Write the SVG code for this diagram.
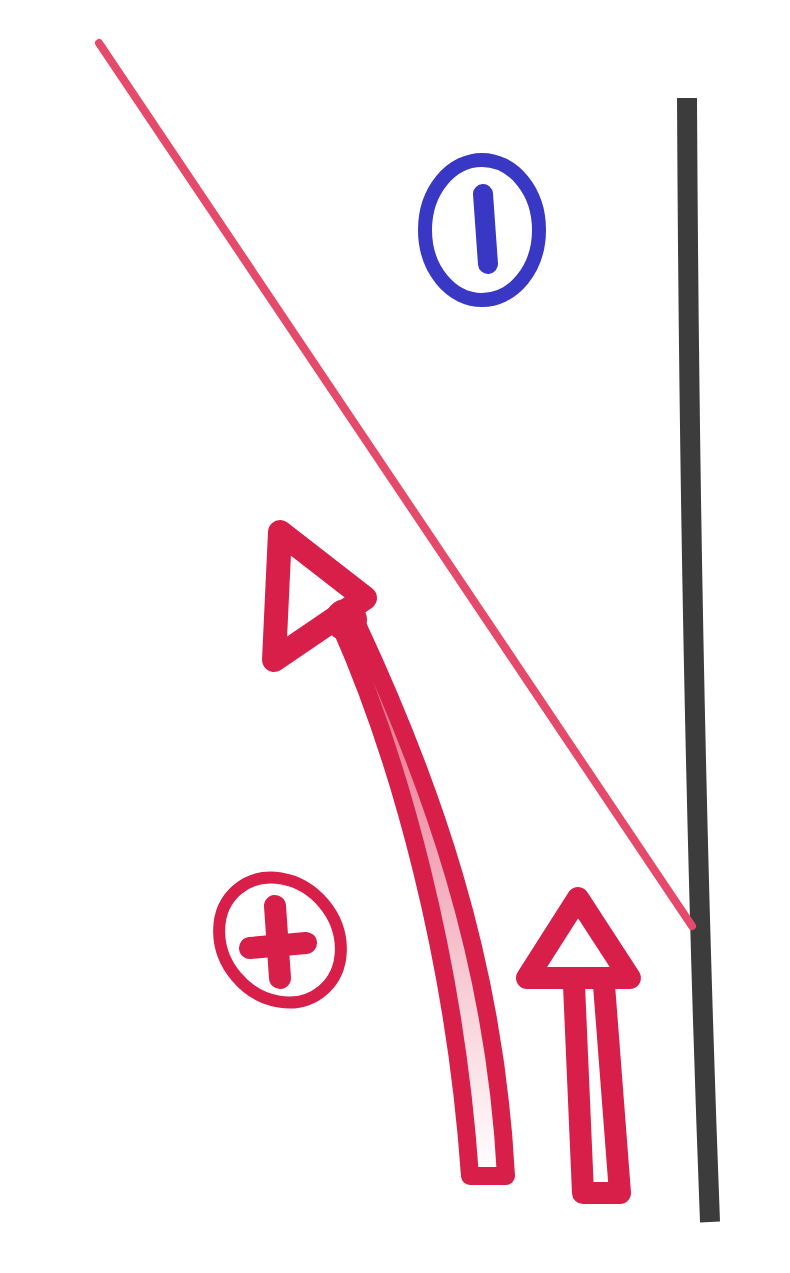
<svg xmlns="http://www.w3.org/2000/svg" width="790" height="1273" viewBox="0 0 790 1273">
<defs>
<linearGradient id="gap" x1="0" y1="0" x2="0" y2="1">
<stop offset="0" stop-color="#e8607e"/>
<stop offset="0.6" stop-color="#f6c4cf"/>
<stop offset="1" stop-color="#ffffff"/>
</linearGradient>
</defs>
<style>
.red{fill:none;stroke:#d81f4a;stroke-linecap:round;stroke-linejoin:round}
.blue{fill:none;stroke:#3838c4;stroke-linecap:round}
</style>
<rect width="790" height="1273" fill="#ffffff"/>
<g id="boundary">
<path d="M 687,98 Q 690,700 710,1222" fill="none" stroke="#3c3c3c" stroke-width="20" stroke-linecap="butt"/>
</g>
<g id="ray">
<path d="M 99,43 L 692,926" fill="none" stroke="#e64a6a" stroke-width="8" stroke-linecap="round"/>
</g>
<g id="negative-charge">
<ellipse cx="482" cy="230" rx="57" ry="70" class="blue" stroke-width="14"/>
<line x1="483" y1="194" x2="488" y2="264" class="blue" stroke="#3a2eb0" stroke-width="20"/>
</g>
<g id="positive-charge">
<ellipse cx="280" cy="940" rx="66" ry="57" transform="rotate(50 280 940)" class="red" stroke-width="12"/>
<line x1="275" y1="906" x2="280" y2="978" class="red" stroke-width="22"/>
<line x1="250" y1="948" x2="306" y2="943" class="red" stroke-width="22"/>
</g>
<g id="curved-arrow">
<path d="M 340,625 C 400,760 455,960 470,1176 L 506,1176 C 495,960 430,780 356,622 Z" fill="url(#gap)" stroke="#d81f4a" stroke-width="18" stroke-linejoin="round"/>
<polygon points="280,532 365,598 274,660" class="red" stroke-width="24"/>
<circle cx="346" cy="620" r="21" fill="#d81f4a"/>
</g>
<g id="straight-arrow">
<polygon points="578,898 630,978 527,978" class="red" stroke-width="22"/>
<path d="M 574,985 L 583,1193 L 620,1193 L 604,985" class="red" stroke-width="22"/>
</g>
</svg>
